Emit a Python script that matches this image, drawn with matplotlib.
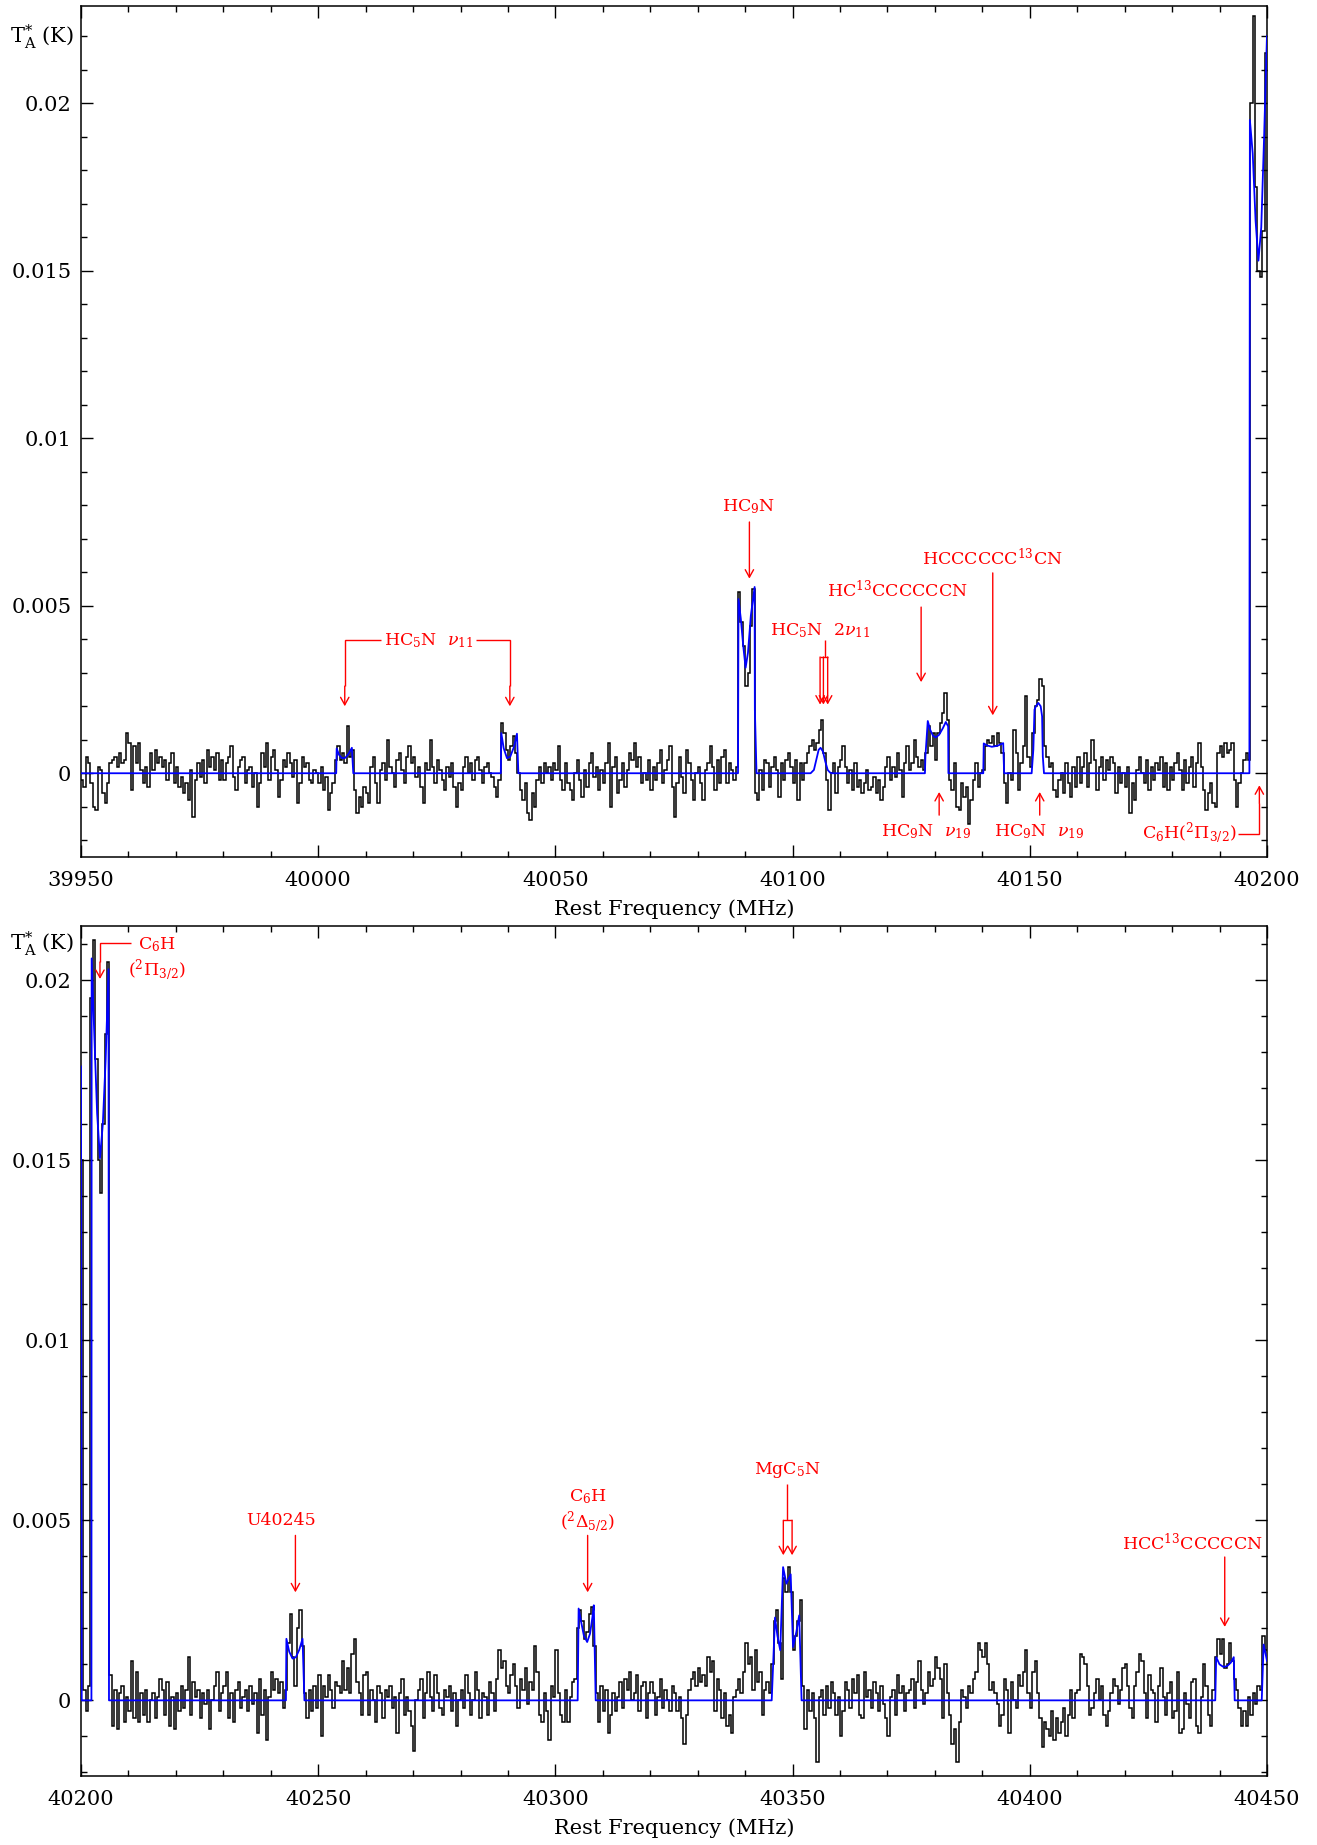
import numpy as np
import matplotlib
matplotlib.use('Agg')
import matplotlib.pyplot as plt
from matplotlib.ticker import MultipleLocator
from matplotlib.transforms import blended_transform_factory

plt.rcParams['font.family'] = ['DejaVu Serif']
plt.rcParams['mathtext.fontset'] = 'dejavuserif'

# ---------------- data ----------------
chan_width = 0.5          # MHz
top_start = 39950.0       # MHz
bot_start = 40200.0       # MHz
unit = 1e-4               # K per count (0.1 mK)

# observed spectrum, top panel (0.1 mK units, 0.5 MHz channels from 39950 MHz)
top_obs = [
    -2, -4, 5, 3, -3, -10, -11, 2, 1, -6, -9, -3, 3, 4, 5, 2, 6, 3, 4, 12,
    9, -5, 8, 3, 9, 1, -3, 2, -4, 6, 1, 7, 3, 5, 2, 4, -2, 3, 6, -3,
    2, -4, -1, -6, -3, -8, 1, -13, -2, 3, -1, 4, -3, 7, 2, 5, 1, 6, -2, 4,
    -2, 3, 5, 8, -1, -5, 2, 4, 5, -3, 1, 2, -4, 0, -10, -3, 6, 2, 9, -2,
    5, 7, 1, -7, -2, 4, 2, 6, 3, -1, 4, -9, -3, 5, 2, 3, -2, -3, 1, 0,
    -3, 2, -5, -1, -11, -6, -3, 4, 8, 4, 6, 3, 14, 5, 7, -5, -12, -7, -10, -4,
    -6, -9, 2, 5, -3, -9, 1, 3, -2, 10, 2, 0, -4, 4, 6, 1, -3, 5, 8, 3,
    5, -1, 2, -4, -9, 3, 1, 10, 2, -3, 4, 1, -2, -5, 2, -1, 3, -4, -10, -3,
    -5, 2, 5, 0, 3, -2, 4, 5, 1, -3, 2, 3, 0, -1, -4, -7, -2, 15, 12, 7,
    4, 8, 11, 6, 0, -5, -8, -3, -12, -14, -6, -10, -2, 2, -3, 3, 0, 2, -2, 3,
    1, 8, -2, -5, 3, -3, -5, -8, 0, 4, -2, -7, 1, -4, 3, 6, -1, 2, -5, 1,
    -3, 3, 9, -10, 2, 5, -6, -2, 3, -4, 1, 6, 4, 9, 2, 5, -3, 0, -2, 4,
    -5, 2, -2, 3, 7, -3, 1, 4, 8, -4, -13, -3, 5, -1, -6, 7, 3, -2, -8, 0,
    2, -3, -8, 1, 3, 8, 2, -5, 4, -3, 5, 7, -3, 3, 1, -2, 2, 54, 45, 38,
    26, 30, 44, 55, -6, -8, 1, -5, 4, 3, -4, 2, 5, 1, -7, 3, -2, 4, 6, 2,
    -3, 4, -8, 3, -2, 3, 6, 8, 10, 7, 9, 13, 16, 6, -2, -11, 0, 3, -6, 2,
    4, 8, 2, -3, 1, -5, 3, -4, -2, -6, -3, 1, -5, -4, -1, -6, -2, -8, -4, 2,
    5, -2, 2, -1, 6, 1, -7, 3, 8, 1, 3, 10, 5, 2, 4, 1, 6, 14, 8, 12,
    4, 12, 15, 18, 24, 16, -2, -5, 3, -10, -11, -3, -7, -4, -15, -8, -2, 3, -4, 0,
    1, 8, 10, 9, 11, 8, 12, 9, 6, -3, -9, 0, -2, 13, 6, -5, 3, 8, 23, 5,
    2, 12, 20, 22, 28, 26, 8, 5, 2, 3, -5, -7, -2, 0, -6, 3, -3, -7, 2, -4,
    5, -3, 2, 6, -4, 3, 10, 4, -5, 2, 5, -2, 4, 1, 5, 3, -6, 2, -3, 0,
    -4, 2, -12, -3, -8, 1, 5, 0, -3, 4, -5, 2, -2, 3, 1, 5, -4, 3, -5, 2,
    -2, 3, 6, 1, -5, 4, -3, 2, 5, -4, 3, 9, 2, -5, -11, -6, -3, -9, -10, 6,
    8, 5, 9, 6, 7, 9, -2, -10, -3, 0, 4, 6, 4, 200, 226, 175, 150, 148, 162, 215,
]

# observed spectrum, bottom panel (0.1 mK units, 0.5 MHz channels from 40200 MHz)
bot_obs = [
    150, 3, -3, 4, 195, 211, 178, 150, 141, 160, 185, 205, 7, -7, 3, -8, 2, 4, -6, 1,
    -3, 11, -5, 8, -6, 2, -4, 3, -6, 0, 2, -5, 1, 6, 3, -4, 5, -7, 1, -8,
    2, -3, 4, -2, 3, 12, -4, 5, 1, 3, -5, 2, -1, 3, -8, 0, 4, 8, -3, 2,
    4, 8, -5, 2, -6, 3, 5, -2, 1, 3, -3, 4, -1, 2, -9, 6, -4, 3, -11, 1,
    8, 3, 6, 2, 5, -2, 3, 16, 24, 12, 4, 20, 25, 15, 2, -5, 3, -3, 4, -2,
    7, -10, 4, 1, 7, 3, -2, 5, 4, 2, 11, 3, 9, 2, 13, 17, 5, 2, -4, 7,
    8, -4, 3, 0, -6, 4, 2, -5, 3, 1, 4, -2, 1, -9, 2, 6, -4, 1, -3, -7,
    -14, 0, 3, 6, -5, 2, 8, 1, -3, 7, 2, -2, -4, 3, 1, 4, -3, 2, -7, 0,
    3, -2, 7, 2, -4, 0, 8, 3, -5, 2, 1, -4, 5, 2, -3, 6, 14, 9, 11, 4,
    2, 7, 10, 4, -2, 6, 3, 9, -1, 5, 3, 15, 8, -4, -6, 2, -3, -11, 4, 1,
    14, 2, -4, -6, 3, -6, 1, 5, 6, 20, 25, 22, 17, 19, 24, 26, 15, 2, -6, 4,
    -3, 3, -9, -4, 2, -3, 1, 5, -2, 6, 3, 8, 0, 2, 7, -3, 4, 5, -5, 2,
    5, 2, -4, 1, 6, -2, 3, 0, -3, 4, 2, -3, 1, -5, -12, -4, 3, 6, 8, 4,
    9, 5, 7, 4, 12, 8, 11, -3, 6, 3, -5, 2, -7, -4, -9, 1, 3, 6, 2, 8,
    16, 10, 12, 3, 14, 5, 8, -4, 3, 5, 2, 10, 22, 25, 16, 6, 34, 30, 37, 30,
    14, 18, 22, 28, 4, -8, 3, -3, 2, -5, -17, 1, 3, -4, 4, -2, 5, 2, -4, 1,
    -10, -3, 5, 3, -2, 6, 2, 7, -4, -5, 8, 1, 3, -2, 5, 2, -3, 4, -1, -5,
    -10, 1, 3, -4, 7, 2, 4, -3, 2, 3, 6, -2, 5, 11, 3, -1, 2, 8, 4, 6,
    12, 9, 6, -5, 10, 2, -4, -12, -8, -17, -6, 3, 1, -2, 4, 2, 6, 8, 16, 14,
    12, 16, 10, 3, 5, 2, -1, -7, -4, 6, 3, -9, 5, 0, -2, 7, 4, 8, 14, 2,
    -2, 8, 11, 2, -5, -13, -6, -8, -10, -3, -11, -5, -9, -6, -2, -10, -4, 3, -5, 2,
    3, 13, 12, 10, 4, -4, -2, 2, 6, 0, 4, -4, -7, -3, 2, 6, 4, -1, 3, 9,
    10, 4, -2, -5, 4, 8, 13, 11, 2, -5, 7, 3, 2, -6, 4, 9, 1, -4, 2, 5,
    -5, -3, 8, -9, -8, 2, -1, -5, 5, 6, -7, -9, 1, 10, 4, -4, -7, 3, 12, 17,
    13, 17, 9, 10, 16, 11, 6, 3, -2, -7, -3, -7, 1, -4, 2, -1, 4, 3, 18, 14,
]

# model (blue) vertices, frequency in MHz and intensity in mK
top_model_freq = [
    39950.0, 40003.8, 40003.9, 40004.4, 40005.0, 40005.7, 40006.4, 40007.1, 40007.4,
    40038.5, 40038.6, 40039.1, 40039.8, 40040.5, 40041.3, 40041.9, 40042.2,
    40088.5, 40088.6, 40089.1, 40089.6, 40090.1, 40090.6, 40091.2, 40092.0, 40092.05, 40092.4,
    40103.8, 40104.5, 40105.0, 40105.5, 40105.9, 40106.4, 40106.9, 40107.4, 40107.9, 40108.3,
    40127.9, 40128.0, 40128.5, 40129.0, 40129.6, 40130.2, 40130.9, 40131.7, 40132.3, 40132.8, 40132.85,
    40140.2, 40140.3, 40141.0, 40142.0, 40143.2, 40144.4, 40144.6,
    40150.4, 40150.75, 40151.0, 40151.3, 40151.8, 40152.3, 40152.6, 40152.75, 40153.0,
    40196.3, 40196.4, 40197.0, 40197.6, 40198.2, 40198.8, 40199.4, 40200.0,
]
top_model_mk = [
    0, 0, 0.74, 0.55, 0.45, 0.46, 0.58, 0.76, 0,
    0, 1.2, 0.75, 0.45, 0.5, 0.8, 1.18, 0,
    0, 5.2, 4.6, 3.8, 3.15, 3.6, 4.7, 5.56, 1.9, 0,
    0, 0.1, 0.4, 0.7, 0.76, 0.65, 0.35, 0.1, 0.02, 0,
    0, 0.5, 1.56, 1.3, 1.12, 1.07, 1.15, 1.35, 1.53, 1.4, 0,
    0, 0.89, 0.83, 0.79, 0.82, 0.9, 0,
    0, 0.7, 1.9, 2.0, 2.1, 2.0, 1.7, 0.5, 0,
    0, 19.5, 18.5, 16.5, 15.3, 16.3, 19.0, 22.0,
]
bot_model_freq = [
    40200.0, 40200.15, 40202.2, 40202.25, 40202.8, 40203.4, 40204.0, 40204.6, 40205.2, 40205.8, 40205.9,
    40243.2, 40243.3, 40243.9, 40244.6, 40245.3, 40246.0, 40246.7, 40247.1,
    40304.7, 40304.9, 40305.4, 40306.0, 40306.7, 40307.3, 40307.8, 40308.1, 40308.5,
    40345.6, 40346.3, 40346.8, 40347.4, 40348.0, 40348.7, 40349.6, 40350.1, 40350.8, 40351.4, 40351.9,
    40439.1, 40439.3, 40440.0, 40440.8, 40441.6, 40442.4, 40443.0, 40443.2,
    40448.9, 40449.3, 40449.7, 40450.0,
]
bot_model_mk = [
    17.6, 0, 0, 20.6, 18.5, 16.3, 15.05, 16.0, 17.8, 20.3, 0,
    0, 1.71, 1.35, 1.16, 1.2, 1.4, 1.71, 0,
    0, 2.55, 2.2, 1.8, 1.62, 1.85, 2.3, 2.64, 0,
    0, 2.3, 1.8, 1.39, 3.7, 3.24, 3.5, 1.48, 1.9, 2.36, 0,
    0, 1.2, 1.0, 0.93, 0.95, 1.05, 1.2, 0,
    0, 1.55, 1.3, 1.1,
]

y_ticks = [0, 0.005, 0.01, 0.015, 0.02]
y_tick_labels = ['0', '0.005', '0.01', '0.015', '0.02']

RED = '#ff0000'
FS = 15
LFS = 12.5

# ---------------- figure ----------------
fig = plt.figure(figsize=(13.17, 18.45), dpi=100)
ax1 = fig.add_axes([0.0615, 0.5355, 0.9005, 0.4612])
ax2 = fig.add_axes([0.0615, 0.0374, 0.9005, 0.4607])


def draw_panel(ax, start, obs, mfreq, mmk, ylim, ylab_y):
    vals = np.asarray(obs, float) * unit
    edges = start + chan_width * np.arange(len(vals) + 1)
    ax.stairs(vals, edges, baseline=None, fill=False, color='black', lw=1.1, zorder=2)
    ax.plot(mfreq, np.asarray(mmk) * 1e-3, color='#0000ff', lw=1.3, zorder=3)
    ax.set_xlim(start, start + 250)
    ax.set_ylim(*ylim)
    ax.xaxis.set_major_locator(MultipleLocator(50))
    ax.xaxis.set_minor_locator(MultipleLocator(10))
    ax.set_yticks(y_ticks)
    ax.set_yticklabels(y_tick_labels)
    ax.yaxis.set_minor_locator(MultipleLocator(0.001))
    ax.tick_params(which='both', direction='in', top=True, right=True,
                   labelsize=FS, width=1.0)
    ax.tick_params(which='major', length=8.5)
    ax.tick_params(which='minor', length=4.3)
    ax.tick_params(axis='x', pad=10)
    ax.tick_params(axis='y', pad=7)
    for s in ax.spines.values():
        s.set_linewidth(1.1)
    ax.set_xlabel('Rest Frequency (MHz)', fontsize=FS, labelpad=7)
    tr = blended_transform_factory(ax.transAxes, ax.transData)
    ax.text(-0.006, ylab_y, r'$\mathrm{T}^{*}_{\mathrm{A}}$ (K)', transform=tr,
            ha='right', va='center', fontsize=FS)


draw_panel(ax1, top_start, top_obs, top_model_freq, top_model_mk, (-0.0025, 0.0229), 0.022)
draw_panel(ax2, bot_start, bot_obs, bot_model_freq, bot_model_mk, (-0.0021, 0.0215), 0.021)


def rline(ax, xs, ys_mk):
    ax.plot(xs, np.asarray(ys_mk) * 1e-3, color=RED, lw=1.0, zorder=4,
            solid_capstyle='butt', solid_joinstyle='miter')


def rarrow(ax, x, y0, y1):
    ax.annotate('', xy=(x, y1 * 1e-3), xytext=(x, y0 * 1e-3),
                arrowprops=dict(arrowstyle='->,head_length=0.45,head_width=0.25',
                                color=RED, lw=1.0, shrinkA=0, shrinkB=0,
                                mutation_scale=12), zorder=4)


def rtext(ax, x, y, s):
    ax.text(x, y * 1e-3, s, color=RED, fontsize=LFS, ha='center', va='center', zorder=4)


# ---- top panel annotations ----
rtext(ax1, 40023.2, 3.95, r'HC$_5$N  $\nu_{11}$')
rline(ax1, [40013.3, 40005.6, 40005.6], [3.97, 3.97, 2.6])
rarrow(ax1, 40005.6, 2.6, 2.0)
rline(ax1, [40033.2, 40040.4, 40040.4], [3.97, 3.97, 2.6])
rarrow(ax1, 40040.4, 2.6, 2.0)

rtext(ax1, 40090.8, 7.97, r'HC$_9$N')
rarrow(ax1, 40090.9, 7.5, 5.81)

rtext(ax1, 40105.8, 4.27, r'HC$_5$N  2$\nu_{11}$')
rline(ax1, [40106.8, 40106.8], [3.97, 3.47])
rline(ax1, [40105.8, 40107.4], [3.47, 3.47])
for fx in (40105.8, 40106.5, 40107.4):
    rarrow(ax1, fx, 3.47, 2.05)

rtext(ax1, 40122.0, 5.45, r'HC$^{13}$CCCCCCN')
rarrow(ax1, 40127.1, 4.96, 2.72)

rtext(ax1, 40142.1, 6.41, r'HCCCCCC$^{13}$CN')
rarrow(ax1, 40142.2, 5.98, 1.73)

rtext(ax1, 40128.1, -1.75, r'HC$_9$N  $\nu_{19}$')
rarrow(ax1, 40130.9, -1.25, -0.56)
rtext(ax1, 40152.0, -1.75, r'HC$_9$N  $\nu_{19}$')
rarrow(ax1, 40152.1, -1.25, -0.56)

rtext(ax1, 40183.6, -1.8, r'C$_6$H($^2\Pi_{3/2}$)')
rline(ax1, [40193.9, 40198.4, 40198.4], [-1.8, -1.8, -0.9])
rarrow(ax1, 40198.4, -0.9, -0.36)

# ---- bottom panel annotations ----
rtext(ax2, 40216.0, 20.97, r'C$_6$H')
rtext(ax2, 40216.1, 20.28, r'($^2\Pi_{3/2}$)')
rline(ax2, [40210.5, 40204.0, 40204.0], [21.02, 21.02, 20.5])
rarrow(ax2, 40204.0, 20.5, 20.03)

rtext(ax2, 40242.1, 5.0, 'U40245')
rarrow(ax2, 40245.2, 4.58, 3.0)

rtext(ax2, 40306.8, 5.65, r'C$_6$H')
rtext(ax2, 40306.8, 4.95, r'($^2\Delta_{5/2}$)')
rarrow(ax2, 40306.8, 4.58, 3.0)

rtext(ax2, 40348.9, 6.39, r'MgC$_5$N')
rline(ax2, [40348.9, 40348.9], [6.0, 5.0])
rline(ax2, [40348.05, 40349.9], [5.0, 5.0])
rarrow(ax2, 40348.05, 5.0, 4.03)
rarrow(ax2, 40349.9, 5.0, 4.03)

rtext(ax2, 40434.2, 4.35, r'HCC$^{13}$CCCCCN')
rarrow(ax2, 40441.1, 3.98, 2.04)

fig.savefig('out.png', dpi=100)
